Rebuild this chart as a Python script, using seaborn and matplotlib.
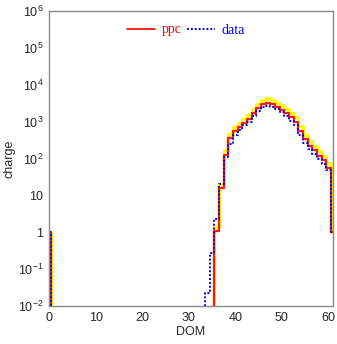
import numpy as np
import pandas as pd
import matplotlib
matplotlib.use("Agg")
import matplotlib.pyplot as plt
from matplotlib.lines import Line2D
from matplotlib.ticker import LogLocator, MultipleLocator, FixedLocator, NullFormatter
import seaborn as sns

# ---- data (DOM 0..61) ----
dom = list(range(0, 62))

# ppc (red)
ppc_nonzero = {0: 1.0, 36: 1.05, 37: 15.5, 38: 128, 39: 350, 40: 560, 41: 700, 42: 900,
               43: 1150, 44: 1680, 45: 2280, 46: 3050, 47: 3300, 48: 3000, 49: 2520,
               50: 2100, 51: 1720, 52: 1300, 53: 980, 54: 560, 55: 330, 56: 225,
               57: 165, 58: 120, 59: 92, 60: 57, 61: 1.0}
# upper ppc band (yellow)
band_nonzero = {0: 1.0, 36: 1.4, 37: 20, 38: 165, 39: 470, 40: 700, 41: 900, 42: 1150,
                43: 1500, 44: 2150, 45: 2950, 46: 3900, 47: 4250, 48: 3900, 49: 3300,
                50: 2750, 51: 2250, 52: 1750, 53: 1300, 54: 760, 55: 430, 56: 300,
                57: 220, 58: 160, 59: 120, 60: 75, 61: 1.0}
# data (blue)
data_nonzero = {0: 1.0, 34: 0.023, 35: 0.27, 36: 2.3, 37: 20, 38: 108, 39: 240, 40: 440,
                41: 600, 42: 790, 43: 1000, 44: 1450, 45: 2000, 46: 2500, 47: 2600,
                48: 2550, 49: 2200, 50: 1800, 51: 1450, 52: 1050, 53: 800, 54: 440,
                55: 270, 56: 185, 57: 135, 58: 98, 59: 72, 60: 50, 61: 1.0}

ppc = [ppc_nonzero.get(d, 0.0) for d in dom]
band = [band_nonzero.get(d, 0.0) for d in dom]
data = [data_nonzero.get(d, 0.0) for d in dom]

y_ticks = [1e-2, 1e-1, 1, 10, 1e2, 1e3, 1e4, 1e5, 1e6]
y_ticklabels = [r"$10^{-2}$", r"$10^{-1}$", "1", "10", r"$10^{2}$", r"$10^{3}$",
                r"$10^{4}$", r"$10^{5}$", r"$10^{6}$"]
x_ticks = [0, 10, 20, 30, 40, 50, 60]

df = pd.DataFrame({"DOM": dom, "ppc": ppc, "band": band, "data": data})

sns.set_style("white")
plt.rcParams['font.family'] = ['Liberation Sans', 'DejaVu Sans']
plt.rcParams['mathtext.fontset'] = 'custom'
plt.rcParams['mathtext.rm'] = 'Liberation Sans'
plt.rcParams['mathtext.it'] = 'Liberation Sans'

fig = plt.figure(figsize=(3.37, 3.44), dpi=100)
ax = fig.add_axes([49/337, 38/344, 283.7/337, 295/344])

sns.lineplot(data=df, x="DOM", y="band", ax=ax, color="#ffff00", lw=2.3,
             drawstyle="steps-mid", estimator=None, legend=False)
sns.lineplot(data=df, x="DOM", y="ppc", ax=ax, color="#ff0000", lw=1.6,
             drawstyle="steps-mid", estimator=None, legend=False, alpha=0.9)
sns.lineplot(data=df, x="DOM", y="data", ax=ax, color="#0000ff", lw=1.4,
             drawstyle="steps-mid", estimator=None, legend=False,
             linestyle=(0, (1.0, 1.0)))

ax.set_yscale("log")
ax.set_xlim(0, 60.9)
ax.set_ylim(1e-2, 1e6)

ax.yaxis.set_major_locator(FixedLocator(y_ticks))
ax.set_yticklabels(y_ticklabels)
ax.yaxis.set_minor_locator(LogLocator(base=10, subs=np.arange(2, 10), numticks=20))
ax.yaxis.set_minor_formatter(NullFormatter())
ax.set_xticks(x_ticks)
ax.xaxis.set_minor_locator(MultipleLocator(2))

gray = "#8a8a8a"
for s in ax.spines.values():
    s.set_visible(True)
    s.set_color(gray)
    s.set_linewidth(1.0)
ax.tick_params(axis="both", which="major", direction="in", length=5, width=0.8,
               color=gray, labelsize=9, pad=4, top=False, right=False)
ax.tick_params(axis="both", which="minor", direction="in", length=2.5, width=0.6,
               color=gray, top=False, right=False)
ax.tick_params(axis="x", which="major", length=4)
ax.set_xlabel("DOM", fontsize=9, labelpad=2)
ax.set_ylabel("charge", fontsize=9, labelpad=2)

handles = [Line2D([], [], color="#ff0000", lw=1.2),
           Line2D([], [], color="#0000ff", lw=1.4, linestyle=(0, (1.0, 1.0)))]
leg = ax.legend(handles, ["ppc", "data"], loc="upper center", bbox_to_anchor=(0.483, 1.0),
                ncol=2, frameon=False, handlelength=2.0, handletextpad=0.5,
                columnspacing=0.4, prop={"family": "Liberation Serif", "size": 10})
for t, c in zip(leg.get_texts(), ["#ff0000", "#0000ff"]):
    t.set_color(c)

fig.savefig("out.png", dpi=100)
